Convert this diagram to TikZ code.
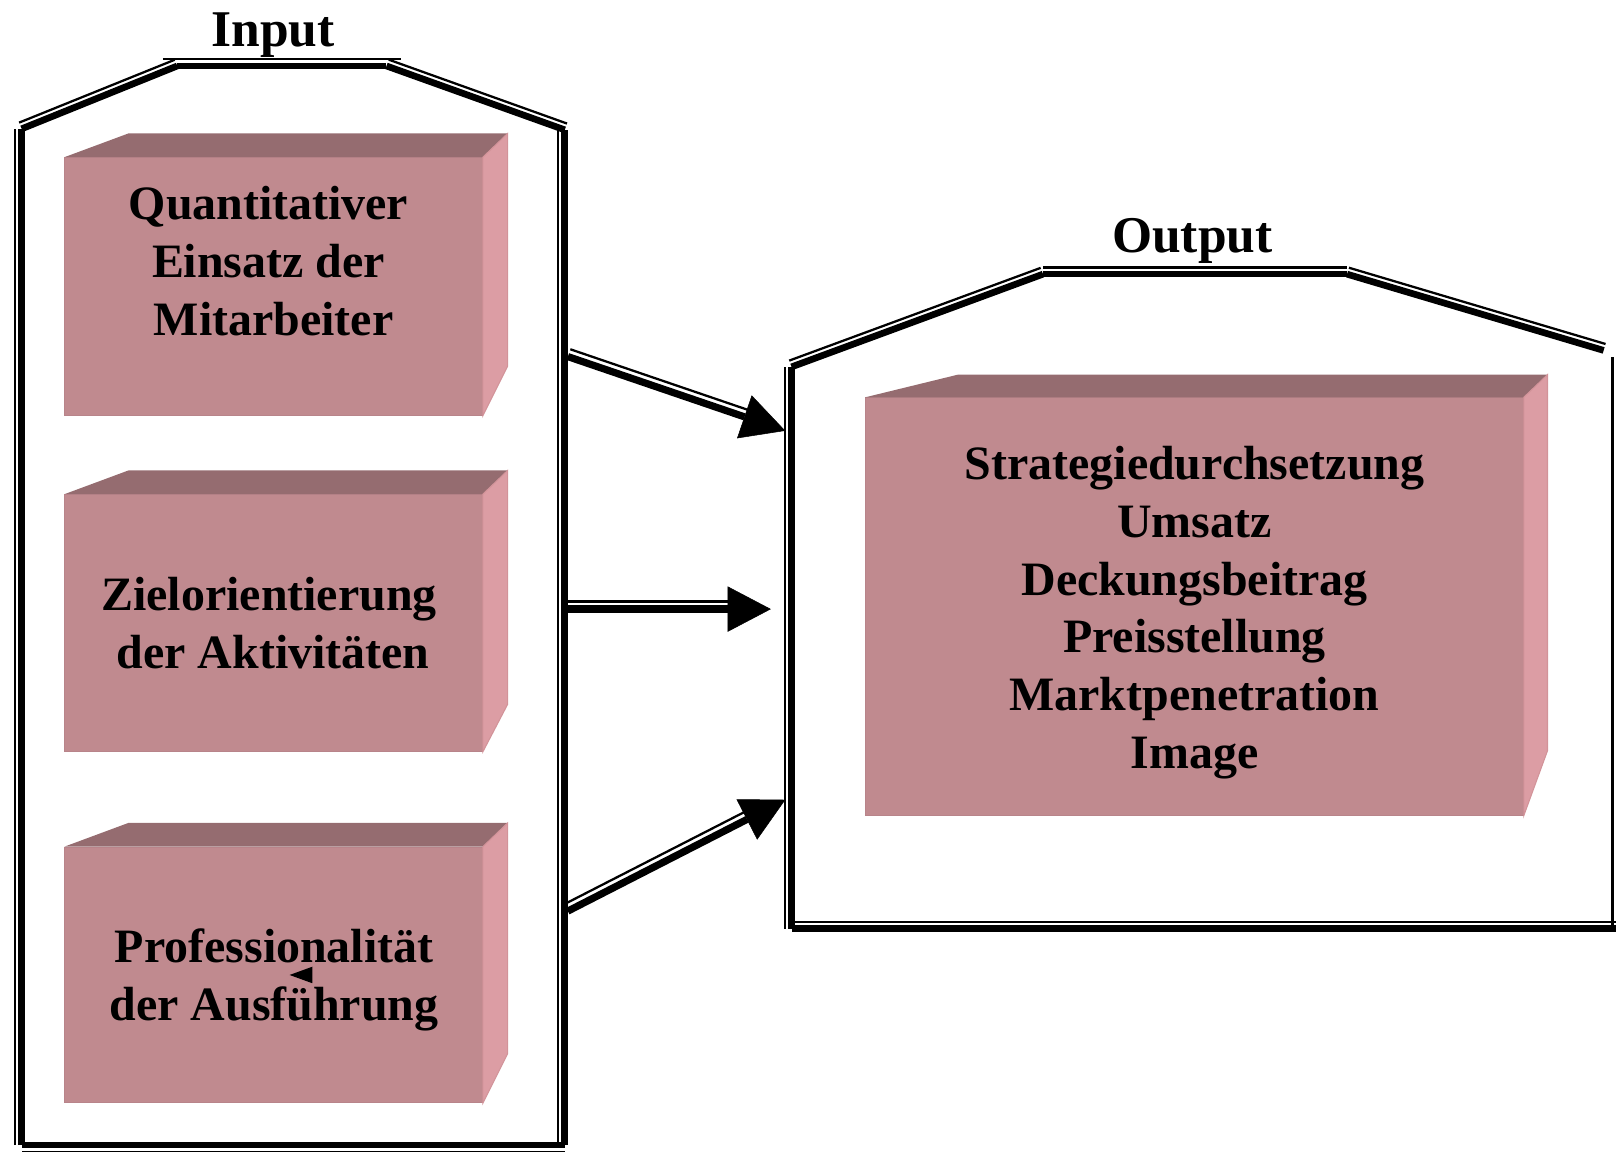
\documentclass[tikz,border=0pt]{standalone}
\usepackage{fontspec}
\setmainfont{Liberation Serif}
\usetikzlibrary{calc,arrows.meta}

\definecolor{boxfront}{HTML}{C08A8F}
\definecolor{boxtop}{HTML}{956C70}
\definecolor{boxside}{HTML}{DC9DA4}
\definecolor{boxedge}{HTML}{B8848A}
\definecolor{boxrim}{HTML}{D29399}

% gap between the thick line and its thin companion
\newcommand\dbsep{6.5pt}
% thin-thick compound segment; the thin line lies to the left of the travel direction
\newcommand\dbline[3][]{%
  \draw[dbthick,#1] (#2) -- (#3);
  \draw[dbthin] ($(#2)!\dbsep!90:(#3)$) -- ($(#3)!\dbsep!-90:(#2)$);
}
% compound arrow: thick shaft with a filled head, thin line stops at the head
\newcommand\dbarrow[2]{%
  \draw[dbthick,line width=7pt,headtip] (#1) -- (#2);
  \draw[dbthin,shorten >=40pt] ($(#1)!7.5pt!90:(#2)$) -- ($(#2)!7.5pt!-90:(#1)$);
}
% cuboid faces beside a front node: back offsets of top-left, top-right, bottom-right
\newcommand\cuboid[4]{%
  \fill[boxtop] (#1.north west) -- ++(#2) -- ($(#1.north east)+(#3)$) -- (#1.north east) -- cycle;
  \fill[boxside,draw=boxrim,line width=1pt] (#1.north east) -- ++(#3) -- ($(#1.south east)+(#4)$) -- (#1.south east) -- cycle;
}

\begin{document}
\begin{tikzpicture}[x=1pt,y=-1pt,
  dbthick/.style={line width=6.5pt},
  dbthin/.style={line width=2.2pt},
  headtip/.style={-{Triangle[length=42pt,width=44pt,line width=0.5pt]}},
  face/.style={rectangle,fill=boxfront,draw=boxedge,line width=1pt,inner sep=0pt},
  boxtext/.style={align=center,inner sep=0pt,font=\fontsize{46.5}{56}\selectfont\bfseries},
  title/.style={anchor=base,inner sep=0pt,font=\fontsize{50}{60}\selectfont\bfseries}]

\useasboundingbox (0,0) rectangle (1568,1117);

% ---------- Input container ----------
\coordinate (inBL) at (21,1111);
\coordinate (inTL) at (21,125);
\coordinate (inR1) at (172,64);
\coordinate (inR2) at (375,64);
\coordinate (inTR) at (548,126);
\coordinate (inBR) at (548,1111);

\dbline{inBL}{inTL}
\dbline{inTL}{inR1}
\dbline{inR1}{inR2}
\draw[dbthin] ($(inR1)+(-14,-6.5)$) -- ($(inR2)+(14,-6.5)$);
\dbline{inR2}{inTR}
\dbline{inBR}{inTR}
\dbline{inBR}{inBL}

\node[title] (tin) at (265,45) {Input};

% ---------- Output container ----------
\coordinate (outBL) at (768,901);
\coordinate (outTL) at (768,356);
\coordinate (outR1) at (1012,266);
\coordinate (outR2) at (1307,266);
\coordinate (outTR) at (1556,340);
\coordinate (outWT) at (1571,346);
\coordinate (outBR) at (1571,901);

\dbline{outBL}{outTL}
\dbline{outTL}{outR1}
\dbline{outR1}{outR2}
\dbline{outR2}{outTR}
\dbline{outBR}{outWT}
\dbline{outBL}{outBR}

\node[title] (tout) at (1157,245) {Output};

% ---------- input boxes ----------
\node[face,minimum width=405pt,minimum height=250pt] (q) at (265.5,278) {};
\node[face,minimum width=405pt,minimum height=249pt] (z) at (265.5,604.5) {};
\node[face,minimum width=405pt,minimum height=248pt] (p) at (265.5,946) {};
\cuboid{q}{62,-23}{24,-23}{24,-48}
\cuboid{z}{62,-23}{24,-23}{24,-46}
\cuboid{p}{62,-23}{24,-23}{24,-48}
\node[boxtext] (qt) at (260.5,253.5) {Quantitativer\\Einsatz der\\\hspace*{10pt}Mitarbeiter};
\node[boxtext] (zt) at (261,604.5) {Zielorientierung\\\hspace*{8pt}der Aktivitäten};
\node[boxtext] (pt) at (266,951) {Professionalität\\der Ausführung};
% stray pointer mark inside the third box
\fill (281,946) -- (303,938) -- (303,954) -- cycle;

% ---------- output box ----------
\node[face,minimum width=638pt,minimum height=405pt] (o) at (1159,588.5) {};
\cuboid{o}{90,-22}{23,-22}{23,-63}
\node[boxtext] (ot) at (1159,594.5)
  {Strategiedurchsetzung\\Umsatz\\Deckungsbeitrag\\Preisstellung\\Marktpenetration\\Image};

% ---------- connectors ----------
\coordinate (a1s) at (551,346);
\coordinate (a1e) at (762,418);
\coordinate (a2s) at (551,591);
\coordinate (a2e) at (748,591);
\coordinate (a3s) at (551,884);
\coordinate (a3e) at (762,776);
\dbarrow{a1s}{a1e}
\dbarrow{a2s}{a2e}
\dbarrow{a3s}{a3e}
\end{tikzpicture}
\end{document}
